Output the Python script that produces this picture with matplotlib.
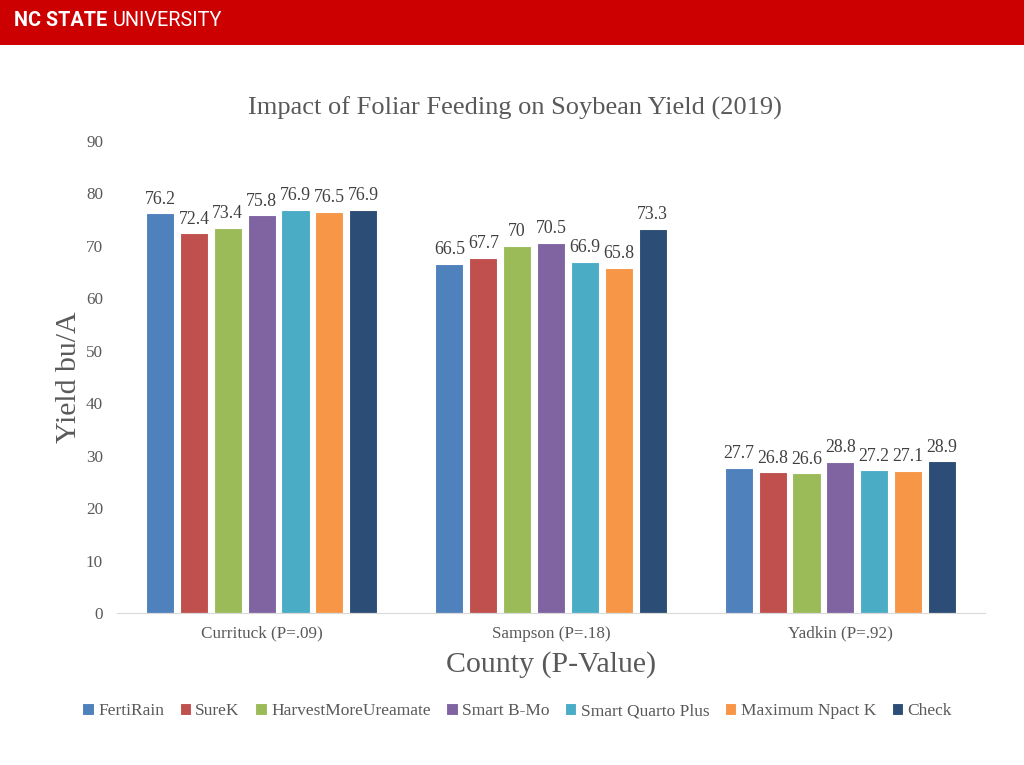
import matplotlib
matplotlib.use("Agg")
import matplotlib.pyplot as plt
import numpy as np
from matplotlib.patches import Rectangle

counties = ["Currituck (P=.09)", "Sampson (P=.18)", "Yadkin (P=.92)"]
series_names = ["FertiRain", "SureK", "HarvestMoreUreamate", "Smart B-Mo",
                "Smart Quarto Plus", "Maximum Npact K", "Check"]
fertirain = [76.2, 66.5, 27.7]
surek = [72.4, 67.7, 26.8]
harvestmore = [73.4, 70, 26.6]
smart_bmo = [75.8, 70.5, 28.8]
smart_quarto = [76.9, 66.9, 27.2]
maximum_npact = [76.5, 65.8, 27.1]
check = [76.9, 73.3, 28.9]
series_values = [fertirain, surek, harvestmore, smart_bmo, smart_quarto, maximum_npact, check]
y_ticks = [0, 10, 20, 30, 40, 50, 60, 70, 80, 90]

colors = ["#4F81BD", "#C0504D", "#9BBB59", "#8064A2", "#4BACC6", "#F79646", "#2C4D75"]
grey = "#595959"
serif = ["Liberation Serif", "DejaVu Serif"]
banner_font = ["Roboto", "DejaVu Sans"]

fig = plt.figure(figsize=(10.24, 7.65), dpi=100)
fig.patch.set_facecolor("white")

# Banner
fig.patches.append(Rectangle((0, 1 - 45 / 765), 1, 45 / 765, transform=fig.transFigure,
                             facecolor="#CC0000", edgecolor="none", zorder=0))
t1 = fig.text(14 / 1024, 1 - 21 / 765, "NC STATE ", color="white", fontsize=14.3, fontweight="bold",
              family=banner_font, va="center", ha="left")
fig.canvas.draw()
bb = t1.get_window_extent()
fig.text(bb.x1 / 1024, 1 - 21 / 765, "UNIVERSITY", color="white", fontsize=14.3,
         family=banner_font, va="center", ha="left")

ax = fig.add_axes([117 / 1024, 1 - 613 / 765, (985 - 117) / 1024, (613 - 141) / 765])
x = np.arange(len(counties))
n = len(series_names)
step = 0.117
width = 0.097
for i, (name, vals, c) in enumerate(zip(series_names, series_values, colors)):
    pos = x + (i - (n - 1) / 2) * step
    bars = ax.bar(pos, vals, width=width, color=c, edgecolor="white", linewidth=0.8,
                  label=name, zorder=2)
    for b, v in zip(bars, vals):
        ax.text(b.get_x() + b.get_width() / 2, v + 1.1, f"{v:g}", ha="center", va="bottom",
                fontsize=12.8, color="#404040", family=serif)

ax.set_xlim(-0.5, 2.5)
ax.set_ylim(0, 90)
ax.set_yticks(y_ticks)
ax.set_xticks(x)
ax.set_xticklabels(counties)
for s in ["top", "right", "left"]:
    ax.spines[s].set_visible(False)
ax.spines["bottom"].set_color("#D9D9D9")
ax.tick_params(axis="both", length=0, colors=grey, labelsize=12.3)
ax.tick_params(axis="y", pad=10)
ax.tick_params(axis="x", pad=9)
for lbl in ax.get_xticklabels() + ax.get_yticklabels():
    lbl.set_family(serif)

ax.set_ylabel("Yield bu/A", fontsize=21.5, color=grey, family=serif, labelpad=3)
ax.set_xlabel("County (P-Value)", fontsize=21.5, color=grey, family=serif, labelpad=7)
fig.text(515 / 1024, 1 - 108 / 765, "Impact of Foliar Feeding on Soybean Yield (2019)", ha="center",
         va="center", fontsize=19, color=grey, family=serif)

leg = fig.legend(loc="center", bbox_to_anchor=(517 / 1024, 1 - 711 / 765), ncol=7, frameon=False,
                 handlelength=0.65, handleheight=0.65, handletextpad=0.25, columnspacing=0.9,
                 prop={"family": serif, "size": 12.5})
for t in leg.get_texts():
    t.set_color(grey)

fig.savefig("out.png", dpi=100)
